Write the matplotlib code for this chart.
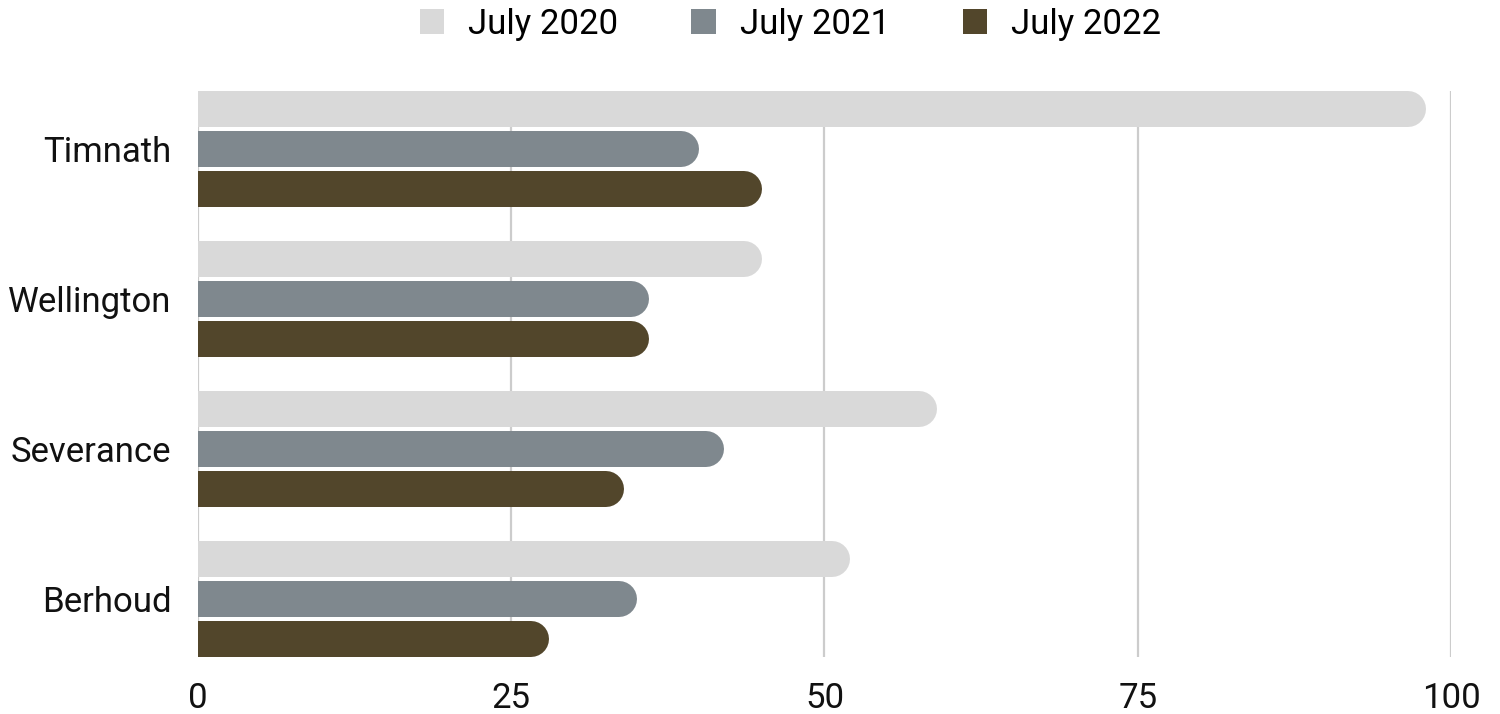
import numpy as np
import matplotlib.pyplot as plt
from matplotlib.patches import Patch

plt.rcParams['font.family'] = ['Roboto', 'DejaVu Sans']

# dados
cidades = ['Timnath', 'Wellington', 'Severance', 'Berhoud']
series = ['July 2020', 'July 2021', 'July 2022']
jul_2020 = [98, 45, 59, 52]
jul_2021 = [40, 36, 42, 35]
jul_2022 = [45, 36, 34, 28]
cores = ['#d9d9d9', '#7f888e', '#52462b']

fig = plt.figure(figsize=(15, 7.14), dpi=100)
ax = fig.add_axes([0.132, 0.0798, 0.8353, 0.7927])

ax.set_xlim(0, 100)
ax.set_ylim(3.3867, -0.3867)

# barras com a ponta direita arredondada: linha com capstyle round,
# a ponta esquerda fica cortada pelo limite do eixo em x=0
altura_px = 36
largura_pt = altura_px * 72 / fig.dpi
px_por_unidade = ax.get_position().width * fig.get_figwidth() * fig.dpi / 100
raio = (altura_px / 2) / px_por_unidade

y = np.arange(len(cidades))
desloc = 40 / 150
for i, (valores, cor) in enumerate(zip([jul_2020, jul_2021, jul_2022], cores)):
    yy = y + (i - 1) * desloc
    for yi, v in zip(yy, valores):
        ax.plot([0, v - raio], [yi, yi], color=cor, linewidth=largura_pt,
                solid_capstyle='round', zorder=3)

ax.set_xticks([0, 25, 50, 75, 100])
ax.set_yticks(y)
ax.set_yticklabels(cidades)
ax.tick_params(axis='both', length=0, labelsize=25, colors='#111111')
ax.tick_params(axis='x', pad=18)
ax.tick_params(axis='y', pad=19)
ax.grid(axis='x', color='#cccccc', linewidth=1.6, zorder=0)
ax.grid(axis='y', visible=False)
for s in ax.spines.values():
    s.set_visible(False)

handles = [Patch(facecolor=c, edgecolor='none') for c in cores]
fig.legend(handles, series, loc='upper center', bbox_to_anchor=(0.527, 1.033),
           ncol=3, frameon=False, fontsize=25, handlelength=0.7, handleheight=0.7,
           handletextpad=0.7, columnspacing=2.1)

fig.savefig('out.png', dpi=100)
